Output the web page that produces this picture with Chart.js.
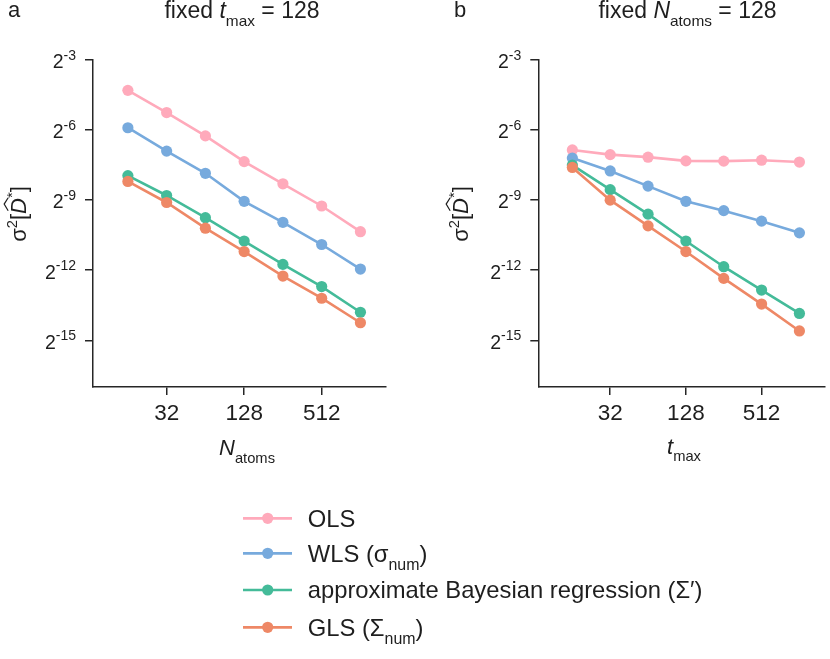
<!DOCTYPE html>
<html>
<head>
<meta charset="utf-8">
<title>Variance of the D estimators</title>
<script src="https://cdn.jsdelivr.net/npm/chart.js@4.4.1/dist/chart.umd.min.js"></script>
<style>
  html, body { margin: 0; padding: 0; background: #fff; }
  #fig { position: relative; width: 830px; height: 659px; overflow: hidden; }
  #fig canvas { position: absolute; left: 0; top: 0; }
</style>
</head>
<body>
<div id="fig">
  <canvas id="panelA" width="830" height="659"></canvas>
  <canvas id="panelB" width="830" height="659"></canvas>
</div>
<script>
// x values are the same in both panels (N_atoms in a, t_max in b)
const xValues = [16, 32, 64, 128, 256, 512, 1024];
const xTickValues = [32, 128, 512];
const yTickExponents = [-3, -6, -9, -12, -15];

const seriesLabels = [
  "OLS",
  "WLS (σ_{num})",
  "approximate Bayesian regression (Σ′)",
  "GLS (Σ_{num})",
];
const seriesColors = ["#FFAABB", "#77AADD", "#44BB99", "#EE8866"];

// panel a : fixed t_max = 128
const olsA = [0.05077, 0.02628, 0.01314, 0.00613, 0.003173, 0.001642, 0.0007662];
const wlsA = [0.01675, 0.008373, 0.004334, 0.001887, 0.001011, 0.0005233, 0.0002527];
const bayesA = [0.004044, 0.002243, 0.001161, 0.0005807, 0.0002903, 0.0001503, 0.00007011];
const glsA = [0.003401, 0.001822, 0.0008502, 0.0004251, 0.0002053, 0.0001063, 0.00005132];

// panel b : fixed N_atoms = 128
const olsB = [0.008669, 0.007546, 0.006992, 0.006259, 0.006216, 0.00639, 0.006045];
const wlsB = [0.006802, 0.004645, 0.002961, 0.001887, 0.00143, 0.001047, 0.0007401];
const bayesB = [0.005524, 0.002668, 0.001289, 0.0005807, 0.0002709, 0.0001355, 0.00006772];
const glsB = [0.005155, 0.001953, 0.0009111, 0.0004251, 0.0001916, 0.00008936, 0.00004027];

const FONT = '"Liberation Sans", Arial, Helvetica, sans-serif';
const axisColor = "#262626";
const textColor = "#1e1e1e";

Chart.defaults.font.family = FONT;

// tiny markup: _{sub}  ^{sup}  $italic$
function parseRich(s) {
  const parts = [];
  const re = /_\{([^}]*)\}|\^\{([^}]*)\}|\$([^$]*)\$|([^_^$]+)/g;
  let m;
  while ((m = re.exec(s))) {
    if (m[1] !== undefined) parts.push({ t: m[1], kind: "sub" });
    else if (m[2] !== undefined) parts.push({ t: m[2], kind: "sup" });
    else if (m[3] !== undefined) parts.push({ t: m[3], kind: "it" });
    else parts.push({ t: m[4], kind: "n" });
  }
  return parts;
}

function drawRich(ctx, s, x, y, size, align, hat, supRatio) {
  const parts = parseRich(s);
  const ratio = supRatio || 0.67;
  parts.forEach((p) => {
    const small = p.kind === "sub" || p.kind === "sup";
    p.size = small ? size * ratio : size;
    p.dy = p.kind === "sub" ? size * 0.36 : p.kind === "sup" ? -size * 0.42 : 0;
    p.font = (p.kind === "it" ? "italic " : "") + p.size + "px " + FONT;
    ctx.font = p.font;
    p.w = ctx.measureText(p.t).width;
  });
  const total = parts.reduce((a, p) => a + p.w, 0);
  let cx = align === "center" ? x - total / 2 : align === "right" ? x - total : x;
  ctx.textAlign = "left";
  ctx.textBaseline = "alphabetic";
  ctx.fillStyle = textColor;
  parts.forEach((p) => {
    ctx.font = p.font;
    ctx.fillText(p.t, cx, y + p.dy);
    if (hat && p.kind === "it") {
      const top = y - size * 0.72;
      ctx.save();
      ctx.strokeStyle = textColor;
      ctx.lineWidth = 1.2;
      ctx.beginPath();
      ctx.moveTo(cx + p.w * 0.2, top - 2);
      ctx.lineTo(cx + p.w * 0.62, top - 6);
      ctx.lineTo(cx + p.w * 1.02, top - 2);
      ctx.stroke();
      ctx.restore();
    }
    cx += p.w;
  });
}

const ylabel = "σ^{2}[$D$^{*}]";

const panelText = {
  id: "panelText",
  afterDraw(chart, args, opts) {
    const ctx = chart.ctx;
    const area = chart.chartArea;
    const yScale = chart.scales.y;
    ctx.save();
    // y tick labels as 2^n
    yScale.ticks.forEach((tick, i) => {
      const py = yScale.getPixelForValue(tick.value);
      drawRich(ctx, "2^{" + yTickExponents[i] + "}", area.left - 17, py + 8.3, 19.5, "right", false, 0.72);
    });
    // panel letter and title
    ctx.font = "22px " + FONT;
    ctx.fillStyle = textColor;
    ctx.textAlign = "left";
    ctx.fillText(opts.letter, opts.letterX, 17);
    drawRich(ctx, opts.title, opts.titleX, 17.5, 23, "center");
    // axis labels
    drawRich(ctx, opts.xlabel, opts.xlabelX, opts.xlabelY, 22, "center");
    ctx.translate(opts.ylabelX, 214);
    ctx.rotate(-Math.PI / 2);
    drawRich(ctx, ylabel, 0, 0, 22, "center", true);
    ctx.restore();
  },
};

const legendRowY = [518.3, 553.3, 590, 627.3];
const figureLegend = {
  id: "figureLegend",
  afterDraw(chart) {
    const ctx = chart.ctx;
    ctx.save();
    seriesLabels.forEach((label, i) => {
      const y = legendRowY[i];
      ctx.strokeStyle = seriesColors[i];
      ctx.lineWidth = 2.7;
      ctx.beginPath();
      ctx.moveTo(243, y);
      ctx.lineTo(292, y);
      ctx.stroke();
      ctx.fillStyle = seriesColors[i];
      ctx.beginPath();
      ctx.arc(267.7, y, 5.6, 0, Math.PI * 2);
      ctx.fill();
      drawRich(ctx, label, 307.7, y + 8.3, 23.8, "left");
    });
    ctx.restore();
  },
};

function makePanel(canvasId, series, layout, extraPlugins) {
  const datasets = series.map((values, i) => ({
    label: seriesLabels[i].replace(/_\{([^}]*)\}/g, "$1"),
    data: xValues.map((x, j) => ({ x: x, y: values[j] })),
    borderColor: seriesColors[i],
    backgroundColor: seriesColors[i],
    borderWidth: 2.6,
    pointRadius: 5.6,
    pointBorderWidth: 0,
    pointBackgroundColor: seriesColors[i],
    tension: 0,
    clip: false,
    order: series.length - 1 - i,
  }));

  return new Chart(document.getElementById(canvasId), {
    type: "line",
    data: { datasets: datasets },
    options: {
      responsive: false,
      animation: false,
      events: [],
      layout: {
        padding: { left: layout.padLeft, right: layout.padRight, top: 60, bottom: 0 },
      },
      scales: {
        x: {
          type: "logarithmic",
          min: 8.574,
          max: 1618,
          bounds: "data",
          afterBuildTicks: (s) => {
            s.ticks = xTickValues.map((v) => ({ value: v }));
          },
          afterFit: (s) => {
            s.height = 272;
          },
          ticks: {
            autoSkip: false,
            maxRotation: 0,
            padding: 5,
            color: textColor,
            font: { size: 22.5 },
            callback: (v) => String(v),
          },
          grid: {
            display: true,
            drawOnChartArea: false,
            drawTicks: true,
            tickLength: 8,
            color: axisColor,
            lineWidth: 1.5,
          },
          border: { display: true, color: axisColor, width: 1.5 },
        },
        y: {
          type: "logarithmic",
          min: Math.pow(2, -17),
          max: Math.pow(2, -3),
          bounds: "data",
          afterBuildTicks: (s) => {
            s.ticks = yTickExponents.map((e) => ({ value: Math.pow(2, e) }));
          },
          afterFit: (s) => {
            s.width = layout.yWidth;
          },
          ticks: { display: false },
          grid: {
            display: true,
            drawOnChartArea: false,
            drawTicks: true,
            tickLength: 8,
            color: axisColor,
            lineWidth: 1.5,
          },
          border: { display: true, color: axisColor, width: 1.5 },
        },
      },
      plugins: {
        legend: { display: false },
        tooltip: { enabled: false },
        panelText: layout.text,
      },
    },
    plugins: [panelText].concat(extraPlugins),
  });
}

makePanel(
  "panelA",
  [olsA, wlsA, bayesA, glsA],
  {
    padLeft: 0,
    padRight: 444,
    yWidth: 93,
    text: {
      letter: "a",
      letterX: 8,
      title: "fixed $t$_{max} = 128",
      titleX: 242,
      xlabel: "$N$_{atoms}",
      xlabelX: 247,
      xlabelY: 455,
      ylabelX: 26,
    },
  },
  []
);

makePanel(
  "panelB",
  [olsB, wlsB, bayesB, glsB],
  {
    padLeft: 415,
    padRight: 0,
    yWidth: 123.3,
    text: {
      letter: "b",
      letterX: 454,
      title: "fixed $N$_{atoms} = 128",
      titleX: 687.5,
      xlabel: "$t$_{max}",
      xlabelX: 684,
      xlabelY: 453.5,
      ylabelX: 468,
    },
  },
  [figureLegend]
);
</script>
</body>
</html>
